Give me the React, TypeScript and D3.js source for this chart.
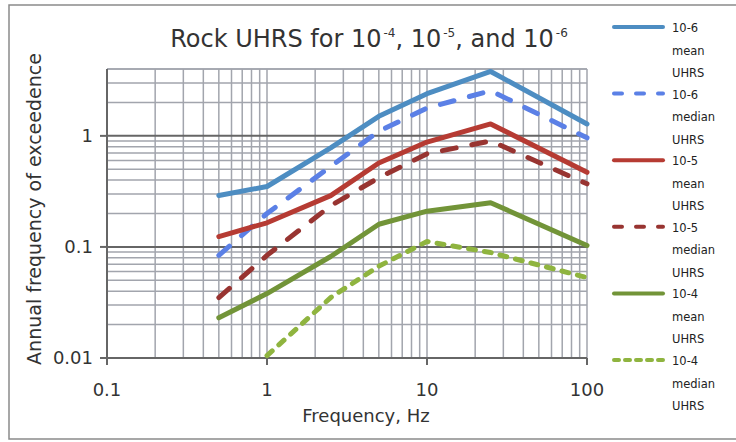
import React, { useEffect, useRef } from 'react';
import * as d3 from 'd3';

const freqs = [0.5, 1, 2.5, 5, 10, 25, 100];
const mean6 = [0.29, 0.35, 0.78, 1.5, 2.4, 3.8, 1.28];
const median6 = [0.084, 0.2, 0.53, 1.1, 1.78, 2.55, 0.96];
const mean5 = [0.124, 0.165, 0.29, 0.57, 0.88, 1.28, 0.47];
const median5 = [0.035, 0.084, 0.235, 0.42, 0.69, 0.9, 0.37];
const mean4 = [0.023, 0.038, 0.082, 0.16, 0.21, 0.25, 0.103];
const median4 = [null, 0.0105, 0.035, 0.067, 0.112, 0.089, 0.053];

const xTicks = [0.1, 1, 10, 100];
const yTicks = [0.01, 0.1, 1];
const seriesNames = [
  ['10-6', 'mean', 'UHRS'],
  ['10-6', 'median', 'UHRS'],
  ['10-5', 'mean', 'UHRS'],
  ['10-5', 'median', 'UHRS'],
  ['10-4', 'mean', 'UHRS'],
  ['10-4', 'median', 'UHRS'],
];

const FONT = '"DejaVu Sans", sans-serif';

const App = () => {
  const svgRef = useRef<SVGSVGElement>(null);

  useEffect(() => {
    const svg = d3.select(svgRef.current);
    svg.selectAll('*').remove();

    const left = 107, right = 587, top = 69, bottom = 358;
    const x = d3.scaleLog().domain([0.1, 100]).range([left, right]);
    const y = d3.scaleLog().domain([0.01, 4]).range([bottom, top]);

    svg.append('rect')
      .attr('width', 736).attr('height', 442).attr('fill', '#fff');
    svg.append('rect')
      .attr('x', 9).attr('y', 5).attr('width', 740).attr('height', 434)
      .attr('fill', 'none').attr('stroke', '#8a8a8a').attr('stroke-width', 1.5);

    // grid
    const xGrid: number[] = [];
    [0.1, 1, 10].forEach(d => { for (let k = 1; k <= 10; k++) xGrid.push(d * k); });
    const yGrid: number[] = [];
    [0.01, 0.1, 1].forEach(d => { for (let k = 1; k <= 10; k++) if (d * k <= 4.0001) yGrid.push(d * k); });
    const g = svg.append('g');
    g.selectAll('.vg').data(Array.from(new Set(xGrid))).enter().append('line')
      .attr('x1', d => x(d)).attr('x2', d => x(d))
      .attr('y1', top).attr('y2', bottom)
      .attr('stroke', '#a2a5ad').attr('stroke-width', 1.5);
    g.selectAll('.hg').data(Array.from(new Set(yGrid))).enter().append('line')
      .attr('x1', left).attr('x2', right)
      .attr('y1', d => y(d)).attr('y2', d => y(d))
      .attr('stroke', d => (yTicks.includes(+d.toFixed(4)) ? '#666' : '#a2a5ad'))
      .attr('stroke-width', d => (yTicks.includes(+d.toFixed(4)) ? 2 : 1.5));
    g.append('line').attr('x1', left).attr('x2', right).attr('y1', top).attr('y2', top)
      .attr('stroke', '#a2a5ad').attr('stroke-width', 1.5);

    // axes
    svg.append('line').attr('x1', left).attr('x2', left).attr('y1', top).attr('y2', bottom)
      .attr('stroke', '#666').attr('stroke-width', 2);
    svg.append('line').attr('x1', left).attr('x2', right).attr('y1', bottom).attr('y2', bottom)
      .attr('stroke', '#666').attr('stroke-width', 2);
    svg.selectAll('.yt').data(yTicks).enter().append('line')
      .attr('x1', left - 7).attr('x2', left).attr('y1', d => y(d)).attr('y2', d => y(d))
      .attr('stroke', '#666').attr('stroke-width', 2);
    svg.selectAll('.xt').data(xTicks).enter().append('line')
      .attr('x1', d => x(d)).attr('x2', d => x(d)).attr('y1', bottom).attr('y2', bottom + 7)
      .attr('stroke', '#666').attr('stroke-width', 2);

    svg.selectAll('.yl').data(yTicks).enter().append('text')
      .attr('x', 93).attr('y', d => y(d)).attr('dy', '0.36em')
      .attr('text-anchor', 'end').attr('font-family', FONT).attr('font-size', 18)
      .attr('fill', '#333').text(d => String(d));
    svg.selectAll('.xl').data(xTicks).enter().append('text')
      .attr('x', d => x(d)).attr('y', 396)
      .attr('text-anchor', 'middle').attr('font-family', FONT).attr('font-size', 18)
      .attr('fill', '#333').text(d => String(d));

    svg.append('text').attr('x', 366).attr('y', 422).attr('text-anchor', 'middle')
      .attr('font-family', FONT).attr('font-size', 18).attr('fill', '#333')
      .text('Frequency, Hz');
    svg.append('text').attr('transform', 'translate(41,209) rotate(-90)')
      .attr('text-anchor', 'middle')
      .attr('font-family', FONT).attr('font-size', 19).attr('fill', '#333')
      .text('Annual frequency of exceedence');

    const title = svg.append('text').attr('x', 369).attr('y', 47).attr('text-anchor', 'middle')
      .attr('font-family', FONT).attr('font-size', 24).attr('fill', '#333');
    title.append('tspan').text('Rock UHRS for 10');
    title.append('tspan').attr('dy', -10).attr('dx', 2).attr('font-size', 12).text('-4');
    title.append('tspan').attr('dy', 10).text(', 10');
    title.append('tspan').attr('dy', -10).attr('dx', 2).attr('font-size', 12).text('-5');
    title.append('tspan').attr('dy', 10).text(', and 10');
    title.append('tspan').attr('dy', -10).attr('dx', 2).attr('font-size', 12).text('-6');

    const series = [
      { values: mean6, color: '#4d8dc2', dash: null, ldash: null },
      { values: median6, color: '#5b80e6', dash: '14,16', ldash: '8,14' },
      { values: mean5, color: '#b63b33', dash: null, ldash: null },
      { values: median5, color: '#983431', dash: '14,16', ldash: '8,14' },
      { values: mean4, color: '#729438', dash: null, ldash: null },
      { values: median4, color: '#8fb43f', dash: '7,9', ldash: '5,6' },
    ];

    const line = d3.line<[number, number | null]>()
      .defined(d => d[1] != null)
      .x(d => x(d[0]))
      .y(d => y(d[1] as number));

    series.forEach(s => {
      svg.append('path')
        .datum(freqs.map((f, i) => [f, s.values[i]] as [number, number | null]))
        .attr('d', line)
        .attr('fill', 'none').attr('stroke', s.color).attr('stroke-width', 5)
        .attr('stroke-linecap', 'round').attr('stroke-linejoin', 'round')
        .attr('stroke-dasharray', s.dash);
    });

    // legend
    const lg = svg.append('g');
    series.forEach((s, i) => {
      const ly = 27 + i * 66.6;
      lg.append('line').attr('x1', 614).attr('x2', 663).attr('y1', ly).attr('y2', ly)
        .attr('stroke', s.color).attr('stroke-width', 4)
        .attr('stroke-linecap', 'round').attr('stroke-dasharray', s.ldash);
      seriesNames[i].forEach((t, j) => {
        lg.append('text').attr('x', 672).attr('y', ly + 5 + j * 22.5)
          .attr('font-family', FONT).attr('font-size', 11.5).attr('fill', '#222')
          .text(t);
      });
    });
  }, []);

  return <svg ref={svgRef} width={736} height={442}
    style={{ position: 'absolute', left: 0, top: 0 }} />;
};

export default App;
